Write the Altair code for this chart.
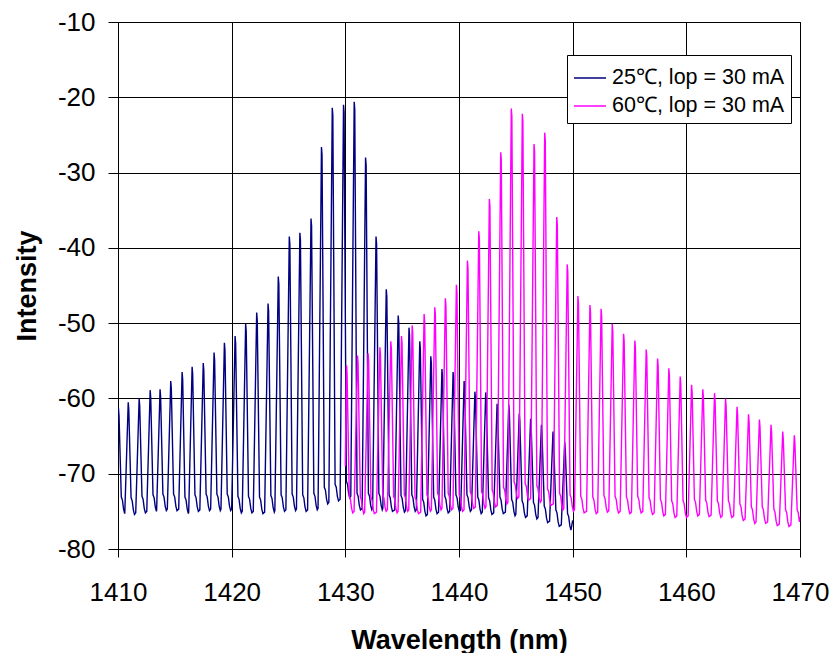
import altair as alt
import pandas as pd

# ---- data ----
series_names = ["25℃, lop = 30 mA", "60℃, lop = 30 mA"]
series_colors = ["#000080", "#FF00FF"]

x_ticks = [1410, 1420, 1430, 1440, 1450, 1460, 1470]
y_ticks = [-80, -70, -60, -50, -40, -30, -20, -10]

# 25 C spectrum: mode peaks (nm, dB) and trough level after each peak
navy_peak_wl = [1410.04, 1410.9, 1411.86, 1412.83, 1413.7, 1414.64, 1415.64, 1416.52,
                1417.5, 1418.45, 1419.36, 1420.3, 1421.23, 1422.2, 1423.2, 1424.1,
                1425.07, 1426.0, 1426.98, 1427.9, 1428.85, 1429.84, 1430.78, 1431.78,
                1432.7, 1433.6, 1434.65, 1435.6, 1436.55, 1437.52, 1438.5, 1439.48,
                1440.45, 1441.4, 1442.35, 1443.35, 1444.38, 1445.3, 1446.3, 1447.25,
                1448.27, 1449.3]
navy_peak_db = [-61.3, -60.5, -60.0, -58.9, -58.8, -57.7, -56.5, -55.8,
                -55.3, -53.9, -52.6, -51.7, -50.1, -48.6, -47.4, -43.8,
                -38.5, -38.0, -36.1, -26.6, -21.4, -21.0, -20.6, -28.0,
                -38.5, -45.5, -49.0, -50.6, -52.4, -54.4, -56.1, -56.5,
                -57.7, -59.1, -59.2, -60.7, -60.8, -62.0, -62.7, -63.5,
                -64.4, -65.8]
navy_valley_db = [-75.3, -75.4, -75.2, -75.0, -74.9, -74.9, -75.3, -75.0,
                  -74.9, -74.9, -74.9, -75.2, -75.2, -75.3, -75.1, -75.0,
                  -74.9, -75.0, -74.8, -74.0, -73.6, -73.2, -74.8, -74.8,
                  -74.8, -75.0, -75.1, -75.0, -75.6, -75.3, -75.2, -75.0,
                  -75.0, -75.3, -75.4, -75.3, -75.6, -75.8, -76.0, -76.5,
                  -77.0, -77.5]
navy_start = None
navy_end = (1450.0, -76.2)

# 60 C spectrum
mag_peak_wl = [1430.1, 1431.07, 1432.0, 1433.04, 1434.0, 1434.94, 1435.88, 1436.93,
               1437.87, 1438.8, 1439.77, 1440.74, 1441.74, 1442.67, 1443.67, 1444.6,
               1445.57, 1446.6, 1447.54, 1448.6, 1449.52, 1450.46, 1451.52, 1452.5,
               1453.48, 1454.48, 1455.47, 1456.47, 1457.47, 1458.46, 1459.46, 1460.46,
               1461.45, 1462.48, 1463.45, 1464.46, 1465.47, 1466.43, 1467.45, 1468.48,
               1469.5]
mag_peak_db = [-55.6, -54.3, -54.0, -53.2, -52.4, -51.7, -50.3, -48.8,
               -47.9, -46.7, -44.9, -41.7, -37.8, -33.5, -27.3, -21.5,
               -22.2, -26.2, -24.7, -35.9, -42.2, -46.4, -47.6, -48.1,
               -50.1, -51.4, -52.3, -53.5, -54.7, -56.0, -57.1, -58.2,
               -58.8, -59.3, -60.0, -61.1, -62.1, -62.8, -63.5, -64.4,
               -64.9]
mag_valley_db = [-75.2, -75.3, -75.3, -75.0, -75.2, -75.0, -75.3, -75.0,
                 -74.8, -74.8, -75.0, -74.6, -74.6, -74.4, -74.0, -73.3,
                 -73.5, -73.8, -74.2, -74.8, -75.0, -75.2, -75.3, -75.1,
                 -75.2, -75.3, -75.2, -75.4, -75.6, -75.8, -75.8, -75.6,
                 -75.7, -75.8, -75.8, -76.2, -76.6, -76.6, -76.9, -77.0,
                 -77.0]
mag_start = (1430.0, -69.0)
mag_end = (1470.0, -75.7)


def trace(name, peaks_wl, peaks_db, valleys, start, end):
    pts = []
    if start:
        pts.append(start)
    n = len(peaks_wl)
    for i in range(n):
        p, P, V = peaks_wl[i], peaks_db[i], valleys[i]
        q = peaks_wl[i + 1] if i + 1 < n else end[0] + 0.3
        cand = [(p, P), (p + 0.05, P - 1.0), (p + 0.25, V + 2.2), (p + 0.35, V + 1.8),
                (p + 0.45, V + 0.6), (p + 0.55, V), (q - 0.3, V + 0.2)]
        for c in cand:
            if c[0] < end[0] and (not pts or c[0] > pts[-1][0]):
                pts.append(c)
    pts.append(end)
    return pd.DataFrame({"wl": [a for a, _ in pts], "db": [b for _, b in pts],
                         "series": name, "idx": range(len(pts))})


df = pd.concat([
    trace(series_names[0], navy_peak_wl, navy_peak_db, navy_valley_db, navy_start, navy_end),
    trace(series_names[1], mag_peak_wl, mag_peak_db, mag_valley_db, mag_start, mag_end),
], ignore_index=True)

FONT = "Liberation Sans"
W, H = 682, 527

axis_common = dict(grid=True, gridColor="#000000", gridOpacity=1, gridWidth=1,
                   domainColor="#000000", domainWidth=1, tickColor="#000000", tickWidth=1,
                   labelFont=FONT, labelFontSize=26, labelColor="#000000",
                   titleFont=FONT, titleFontSize=27, titleFontWeight="bold",
                   titleColor="#000000", labelFlush=False, labelOverlap=False,
                   labelExpr="datum.value + ''")

chart = alt.Chart(df).mark_line(strokeWidth=1.4, clip=True).encode(
    x=alt.X("wl:Q",
            scale=alt.Scale(domain=[1410, 1470], nice=False, zero=False),
            axis=alt.Axis(values=x_ticks, title="Wavelength (nm)",
                          tickSize=8, labelPadding=22,
                          titleX=W / 2, titleY=91, titleBaseline="middle", titleAlign="center",
                          **axis_common)),
    y=alt.Y("db:Q",
            scale=alt.Scale(domain=[-80, -10], nice=False, zero=False),
            axis=alt.Axis(values=y_ticks, title="Intensity",
                          tickSize=10, labelPadding=13,
                          titleX=-91, titleY=H / 2, titleBaseline="middle", titleAlign="center",
                          titleAngle=270, **axis_common)),
    color=alt.Color("series:N",
                    scale=alt.Scale(domain=series_names, range=series_colors),
                    legend=alt.Legend(title=None, orient="none", legendX=449, legendY=33,
                                      symbolType="stroke", symbolSize=1024,
                                      symbolStrokeWidth=1.5, labelFontSize=21.5,
                                      labelFont=FONT, labelColor="black",
                                      labelOffset=5, labelLimit=400, padding=6,
                                      rowPadding=0, strokeColor="black",
                                      fillColor="white", cornerRadius=0)),
    order="idx:Q",
).properties(
    width=W, height=H,
    padding={"left": 110, "top": 14, "right": 29, "bottom": 104},
    autosize=alt.AutoSizeParams(type="none"),
).configure_view(stroke="#000000", strokeWidth=1)

chart.save("out.html", embed_options={"renderer": "svg", "actions": False})
